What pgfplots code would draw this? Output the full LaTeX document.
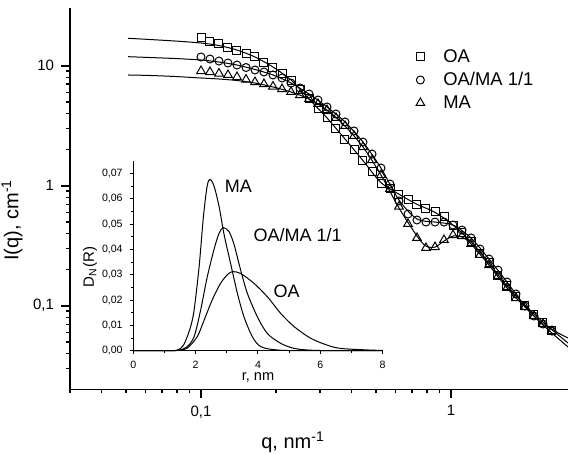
\documentclass[border=0pt]{standalone}
\usepackage{fontspec}
\setmainfont{Liberation Sans}
\usepackage{pgfplots}
\pgfplotsset{compat=1.18}
\begin{document}
\begin{tikzpicture}
\path[use as bounding box] (-35pt,-32.25pt) rectangle (249pt,194.75pt);
\begin{axis}[
  at={(0,0)}, anchor=south west,
  scale only axis, width=249pt, height=190.75pt,
  xmode=log, ymode=log,
  xmin=0.02992, xmax=2.938, ymin=0.02004, ymax=30.26,
  axis lines*=left, clip=false,
  axis line style={line width=0.8pt},
  every tick/.style={line width=0.8pt, black},
  tick align=outside,
  major tick length=4.5pt, minor tick length=2pt,
  log ticks with fixed point,
  /pgf/number format/use comma,
  /pgf/number format/assume math mode=true,
  ticklabel style={font=\fontsize{7.5}{9}\selectfont},
  legend style={draw=none, fill=none, at={(0.682,0.908)}, anchor=north west,
    font=\fontsize{9.2}{11}\selectfont, row sep=2pt,
    nodes={inner sep=0.5pt, text height=7pt, text depth=1.5pt}},
  legend cell align=left,
  legend image code/.code={\draw[#1] plot coordinates {(0pt,0pt)}; \path[draw=none] (0pt,0pt) -- (11pt,0pt);},
]
% fitted curves
\addplot[black, line width=0.5pt, smooth, forget plot] coordinates {
 (0.05105,16.92) (0.06252,16.53) (0.0787,16.06) (0.1,15.46) (0.118,14.73) (0.1393,13.51)
 (0.1644,11.82) (0.1941,9.75) (0.2291,7.60) (0.2704,5.28) (0.3192,3.67) (0.3767,2.45)
 (0.4446,1.62) (0.5248,1.06) (0.6194,0.85) (0.7311,0.70) (0.863,0.60) (1.0186,0.47)
 (1.2023,0.340) (1.4191,0.227) (1.6749,0.146) (1.977,0.1013) (2.3335,0.0731) (2.938,0.0489)
};
\addplot[black, line width=0.5pt, smooth, forget plot] coordinates {
 (0.05105,11.89) (0.06252,11.70) (0.0787,11.48) (0.1,11.16) (0.118,10.73) (0.1393,10.13)
 (0.1644,9.30) (0.1941,8.37) (0.2291,7.17) (0.2704,5.81) (0.3192,4.53) (0.3767,3.40)
 (0.4446,2.31) (0.5248,1.404) (0.6194,0.760) (0.7311,0.528) (0.863,0.498) (1.0186,0.470)
 (1.2023,0.367) (1.4191,0.245) (1.6749,0.1576) (1.977,0.0994) (2.3335,0.0704) (2.938,0.0538)
};
\addplot[black, line width=0.5pt, smooth, forget plot] coordinates {
 (0.05105,8.37) (0.06252,8.29) (0.0787,8.13) (0.1,7.90) (0.118,7.75) (0.1393,7.53)
 (0.1644,7.17) (0.1941,6.65) (0.2291,6.04) (0.2704,5.28) (0.3192,4.27) (0.3767,3.145)
 (0.4446,2.10) (0.5248,1.228) (0.6194,0.652) (0.7311,0.381) (0.7943,0.314) (0.863,0.308)
 (0.9376,0.346) (1.0186,0.381) (1.1066,0.374) (1.2023,0.327) (1.4191,0.218) (1.6749,0.1405)
 (1.977,0.0975) (2.3335,0.0690) (2.938,0.0453)
};
% measured data
\addplot[only marks, mark=square, mark size=2pt, line width=0.5pt, black] coordinates {
 (0.1,17.02) (0.1086,16.06) (0.118,15.31) (0.1282,14.31) (0.1393,13.51) (0.1514,12.76)
 (0.1644,11.82) (0.1786,10.73) (0.1941,9.75) (0.2109,8.53) (0.2291,7.60) (0.2489,6.39)
 (0.2704,5.28) (0.2938,4.44) (0.3192,3.67) (0.3467,2.97) (0.3767,2.45) (0.4093,2.02)
 (0.4446,1.637) (0.4831,1.301) (0.5248,1.053) (0.5702,0.939) (0.6194,0.853) (0.673,0.775)
 (0.7311,0.704) (0.7943,0.652) (0.863,0.604) (0.9376,0.549) (1.0186,0.470) (1.1066,0.411)
 (1.2023,0.340) (1.3062,0.270) (1.4191,0.227) (1.5417,0.177) (1.6749,0.146) (1.8197,0.1204)
 (1.977,0.1013) (2.1478,0.0852) (2.3335,0.0731) (2.5351,0.0627)
};
\addlegendentry{OA}
\addplot[only marks, mark=o, mark size=2pt, line width=0.5pt, black] coordinates {
 (0.1,11.82) (0.1086,11.37) (0.118,10.94) (0.1282,10.53) (0.1393,10.13) (0.1514,9.66)
 (0.1644,9.21) (0.1786,8.86) (0.1941,8.37) (0.2109,7.90) (0.2291,7.17) (0.2489,6.52)
 (0.2704,5.81) (0.2938,5.18) (0.3192,4.53) (0.3467,3.96) (0.3767,3.40) (0.4093,2.86)
 (0.4446,2.31) (0.4831,1.837) (0.5248,1.404) (0.5702,1.033) (0.6194,0.746) (0.673,0.581)
 (0.7311,0.518) (0.7943,0.498) (0.863,0.498) (0.9376,0.498) (1.0186,0.470) (1.1066,0.427)
 (1.2023,0.367) (1.3062,0.297) (1.4191,0.245) (1.5417,0.198) (1.6749,0.1576) (1.8197,0.1252)
 (1.977,0.0994) (2.1478,0.0821) (2.3335,0.0704) (2.5351,0.0615)
};
\addlegendentry{OA/MA 1/1}
\addplot[only marks, mark=triangle, mark size=2.5pt, line width=0.5pt, black] coordinates {
 (0.1,9.03) (0.1086,8.86) (0.118,8.61) (0.1282,8.37) (0.1393,8.05) (0.1514,7.67)
 (0.1644,7.31) (0.1786,7.04) (0.1941,6.71) (0.2109,6.39) (0.2291,6.04) (0.2489,5.70)
 (0.2704,5.28) (0.2938,4.80) (0.3192,4.27) (0.3467,3.67) (0.3767,3.145) (0.4093,2.60)
 (0.4446,2.10) (0.4831,1.637) (0.5248,1.228) (0.5702,0.939) (0.6194,0.670) (0.673,0.480)
 (0.7311,0.367) (0.7943,0.303) (0.863,0.308) (0.9376,0.353) (1.0186,0.388) (1.1066,0.381)
 (1.2023,0.327) (1.3062,0.265) (1.4191,0.218) (1.5417,0.177) (1.6749,0.1405) (1.8197,0.1159)
 (1.977,0.0975) (2.1478,0.0821) (2.3335,0.0704) (2.5351,0.0615)
};
\addlegendentry{MA}
\node[rotate=90, font=\fontsize{10}{12}\selectfont] at ([xshift=-29pt]rel axis cs:0,0.444) {I(q), cm\textsuperscript{-1}};
\node[font=\fontsize{10}{12}\selectfont] at ([yshift=-26.25pt]rel axis cs:0.448,0) {q, nm\textsuperscript{-1}};
\end{axis}

\begin{axis}[
  at={(31.65pt,19.4pt)}, anchor=south west,
  scale only axis, width=124.7pt, height=95pt,
  xmin=0, xmax=8, ymin=0, ymax=0.075,
  axis lines*=left, clip=false,
  axis line style={line width=0.5pt},
  every tick/.style={line width=0.5pt, black},
  tick align=outside,
  major tick length=1.8pt, minor tick length=1pt,
  xtick={0,2,4,6,8}, ytick={0,0.01,0.02,0.03,0.04,0.05,0.06,0.07},
  minor x tick num=1, minor y tick num=1,
  /pgf/number format/assume math mode=true,
  /pgf/number format/use comma,
  yticklabel style={/pgf/number format/fixed, /pgf/number format/fixed zerofill, /pgf/number format/precision=2},
  scaled y ticks=false,
  ticklabel style={font=\fontsize{5.3}{6}\selectfont},
]
\addplot[black, line width=0.5pt, smooth] coordinates {
 (0,0) (1.0,0) (1.41,0.0002) (1.6,0.002) (1.73,0.0055) (1.85,0.010) (1.95,0.016) (2.11,0.033)
 (2.25,0.053) (2.37,0.065) (2.46,0.0676) (2.59,0.065) (2.75,0.057) (2.91,0.046) (3.12,0.0345)
 (3.34,0.0226) (3.55,0.0134) (3.82,0.0055) (4.09,0.0016) (4.6,0.0003) (5.5,0) (8,0)
};
\addplot[black, line width=0.5pt, smooth] coordinates {
 (0,0) (1.2,0) (1.5,0.0003) (1.73,0.0016) (1.95,0.0055) (2.16,0.016) (2.37,0.029) (2.59,0.040)
 (2.75,0.0463) (2.89,0.0486) (3.07,0.047) (3.23,0.042) (3.44,0.032) (3.66,0.0226) (3.98,0.0134)
 (4.3,0.0068) (4.73,0.0029) (5.16,0.0009) (5.7,0.0002) (6.5,0) (8,0)
};
\addplot[black, line width=0.5pt, smooth] coordinates {
 (0,0) (1.2,0) (1.5,0.0003) (1.73,0.001) (2.05,0.0055) (2.27,0.012) (2.53,0.020) (2.80,0.0266)
 (3.02,0.030) (3.18,0.0312) (3.44,0.0305) (3.87,0.0266) (4.3,0.0213) (4.73,0.0147) (5.16,0.0095)
 (5.69,0.0049) (6.22,0.0022) (6.65,0.0009) (7.5,0.0003) (8,0.0001)
};
\node[font=\fontsize{9}{11}\selectfont] at (axis cs:3.37,0.0647) {MA};
\node[font=\fontsize{9}{11}\selectfont] at (axis cs:5.27,0.0457) {OA/MA 1/1};
\node[font=\fontsize{9}{11}\selectfont] at (axis cs:4.92,0.0236) {OA};
\node[rotate=90, font=\fontsize{7.5}{9}\selectfont] at ([xshift=-21.6pt]rel axis cs:0,0.44) {D\textsubscript{N}(R)};
\node[font=\fontsize{7.3}{9}\selectfont] at ([yshift=-13.65pt]rel axis cs:0.5,0) {r, nm};
\end{axis}
\end{tikzpicture}
\end{document}
